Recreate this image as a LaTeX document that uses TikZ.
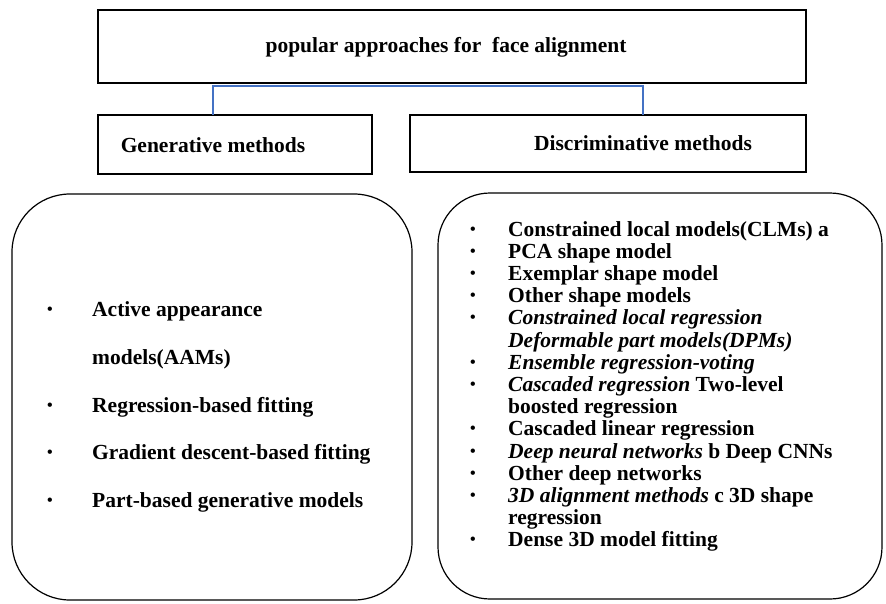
\documentclass[tikz,border=0pt]{standalone}
\usepackage{fontspec}
\setmainfont{Liberation Serif}
\definecolor{connblue}{RGB}{68,114,196}
\tikzset{
  plainbox/.style={draw=black, line width=1.6pt, inner sep=0pt},
  roundbox/.style={draw=black, line width=1.2pt, inner sep=0pt, rounded corners=58pt},
  conn/.style={draw=connblue, line width=1.4pt},
  lbl/.style={font=\fontsize{21.5}{24}\selectfont\bfseries, inner sep=0pt},
  item/.style={font=\fontsize{21.5}{24}\selectfont\bfseries, inner sep=0pt, anchor=base west},
  bul/.style={font=\fontsize{16}{18}\selectfont\bfseries, inner sep=0pt, anchor=base},
}
\begin{document}
\begin{tikzpicture}[x=1pt,y=-1pt]
\useasboundingbox (0,0) rectangle (886,603);
% top box
\draw[plainbox] (98,10) rectangle (806,83);
\node[lbl] (top) at (446,47) {popular approaches for\ \ face alignment};
\coordinate (topL) at (213,86);
\coordinate (topR) at (643,86);
% second row
\draw[plainbox] (98,115) rectangle (372,174);
\node[lbl] (gen) at (213,145) {Generative methods};
\draw[plainbox] (410,115) rectangle (806,172);
\node[lbl] (dis) at (643,143) {Discriminative methods};
\coordinate (genT) at (213,115);
\coordinate (disT) at (643,115);
\draw[conn] (genT) -- (topL) -- (topR) -- (disT);
% rounded boxes
\draw[roundbox] (12,194) rectangle (412,600);
\draw[roundbox, rounded corners=52pt] (438,193) rectangle (882,599);
% left list
\foreach \n/\b/\t/\y in {a/1/Active appearance/316, b/0/models(AAMs)/364, c/1/Regression-based fitting/412, d/1/Gradient descent-based fitting/459, e/1/Part-based generative models/507}{
  \node[item] (L\n) at (92,\y) {\t};
  \ifnum\b=1 \node[bul] (LB\n) at (50,\y-2) {•};\fi
}
% right list
\foreach \n/\b/\t/\i in {
 a/1/{Constrained local models(CLMs) a}/0,
 b/1/{PCA shape model}/1,
 c/1/{Exemplar shape model}/2,
 d/1/{Other shape models}/3,
 e/1/{\itshape Constrained local regression}/4,
 f/0/{\itshape Deformable part models(DPMs)}/5,
 g/1/{\itshape Ensemble regression-voting}/6,
 h/1/{{\itshape Cascaded regression} Two-level}/7,
 i/0/{boosted regression}/8,
 j/1/{Cascaded linear regression}/9,
 k/1/{{\itshape Deep neural networks} b Deep CNNs}/10,
 l/1/{Other deep networks}/11,
 m/1/{{\itshape 3D alignment methods} c 3D shape}/12,
 n/0/{regression}/13,
 o/1/{Dense 3D model fitting}/14}{
  \node[item] (R\n) at (508,236+22.2*\i) {\t};
  \ifnum\b=1 \node[bul] (RB\n) at (473,234+22.2*\i) {•};\fi
}
\end{tikzpicture}
\end{document}
